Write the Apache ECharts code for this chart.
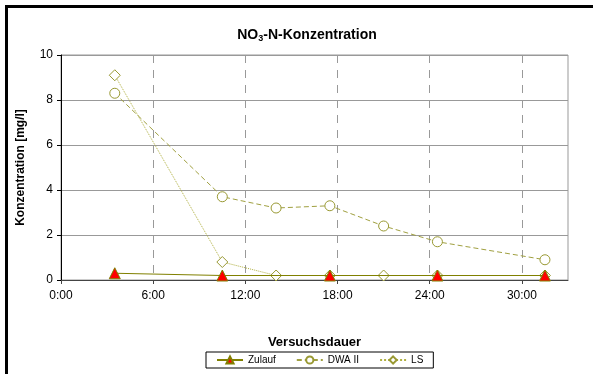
<!DOCTYPE html>
<html>
<head>
<meta charset="utf-8">
<script src="https://cdn.jsdelivr.net/npm/echarts@6/dist/echarts.min.js"></script>
<style>
html,body{margin:0;padding:0;background:#fff;}
#chart{width:593px;height:374px;position:relative;}
#frame{position:absolute;left:5px;top:5px;width:600px;height:400px;border-left:3px solid #000;border-top:3px solid #000;pointer-events:none;}
</style>
</head>
<body>
<div id="chart"></div>
<div id="frame"></div>
<script>
// Versuchsdauer in Stunden
var zulaufHours = [3.5, 10.5, 17.5, 24.5, 31.5];
var zulaufValues = [0.3, 0.2, 0.2, 0.2, 0.2];
var probeHours = [3.5, 10.5, 14, 17.5, 21, 24.5, 31.5];
var dwaValues = [8.3, 3.7, 3.2, 3.3, 2.4, 1.7, 0.9];
var lsValues = [9.1, 0.8, 0.2, 0.2, 0.2, 0.2, 0.2];
var xTicks = ['0:00', '6:00', '12:00', '18:00', '24:00', '30:00'];
var yTicks = [0, 2, 4, 6, 8, 10];

function pairs(xs, ys) {
  var out = [];
  for (var i = 0; i < xs.length; i++) out.push([xs[i], ys[i]]);
  return out;
}

var font = 'Liberation Sans, Arial, sans-serif';
var myChart = echarts.init(document.getElementById('chart'));
var tickHours = xTicks.map(function (t, i) { return i * 6; });

var option = {
  animation: false,
  backgroundColor: '#fff',
  title: {
    text: '{a|NO}{s|3}{a|-N-Konzentration}',
    left: 302,
    textAlign: 'center',
    top: 22,
    textStyle: {
      rich: {
        a: {fontFamily: font, fontSize: 14, fontWeight: 'bold', color: '#000'},
        s: {fontFamily: font, fontSize: 9, fontWeight: 'bold', color: '#000', padding: [7, 0, 0, 0]}
      }
    }
  },
  grid: {
    left: 61, right: 25, top: 55, bottom: 94,
    show: true, borderColor: '#999', borderWidth: 1
  },
  legend: {
    left: 206, top: 352,
    padding: [3, 10, 3, 10],
    itemGap: 20,
    itemWidth: 26, itemHeight: 9,
    borderColor: '#000', borderWidth: 1,
    textStyle: {fontFamily: font, fontSize: 10, color: '#000'},
    data: ['Zulauf', 'DWA II', 'LS']
  },
  xAxis: {
    type: 'value',
    min: 0, max: 33, interval: 6,
    name: 'Versuchsdauer',
    nameLocation: 'middle',
    nameGap: 56,
    nameTextStyle: {fontFamily: font, fontSize: 13, fontWeight: 'bold', color: '#000'},
    axisLine: {show: true, onZero: false, lineStyle: {color: '#444', width: 1}},
    axisTick: {show: true, length: 4, customValues: tickHours, lineStyle: {color: '#444'}},
    axisLabel: {
      fontFamily: font, fontSize: 12, color: '#000', margin: 10,
      customValues: tickHours,
      formatter: function (v) { return xTicks[Math.round(v / 6)] || ''; }
    },
    splitLine: {show: true, lineStyle: {color: '#999', type: [8, 7], width: 1}}
  },
  yAxis: {
    type: 'value',
    min: yTicks[0], max: yTicks[yTicks.length - 1], interval: 2,
    name: 'Konzentration [mg/l]',
    nameLocation: 'middle',
    nameGap: 34,
    nameTextStyle: {fontFamily: font, fontSize: 12, fontWeight: 'bold', color: '#000'},
    axisLine: {show: true, lineStyle: {color: '#000', width: 1}},
    axisTick: {show: true, length: 4, inside: false, lineStyle: {color: '#000'}},
    axisLabel: {fontFamily: font, fontSize: 12, color: '#000', margin: 8},
    splitLine: {show: true, lineStyle: {color: '#999', width: 1}}
  },
  series: [
    {
      name: 'LS', type: 'line', z: 3,
      data: pairs(probeHours, lsValues),
      symbol: 'diamond', symbolSize: 11,
      lineStyle: {color: '#b0b040', type: 'dotted', width: 1},
      itemStyle: {color: '#fff', borderColor: '#999933', borderWidth: 1}
    },
    {
      name: 'DWA II', type: 'line', z: 4,
      data: pairs(probeHours, dwaValues),
      symbol: 'circle', symbolSize: 10,
      lineStyle: {color: '#a0a040', type: [5, 3], width: 1},
      itemStyle: {color: '#fff', borderColor: '#999933', borderWidth: 1}
    },
    {
      name: 'Zulauf', type: 'line', z: 5,
      data: pairs(zulaufHours, zulaufValues),
      symbol: 'triangle', symbolSize: 11,
      lineStyle: {color: '#808000', width: 1},
      itemStyle: {color: '#ff0000', borderColor: '#808000', borderWidth: 1}
    }
  ]
};

myChart.setOption(option);
</script>
</body>
</html>
